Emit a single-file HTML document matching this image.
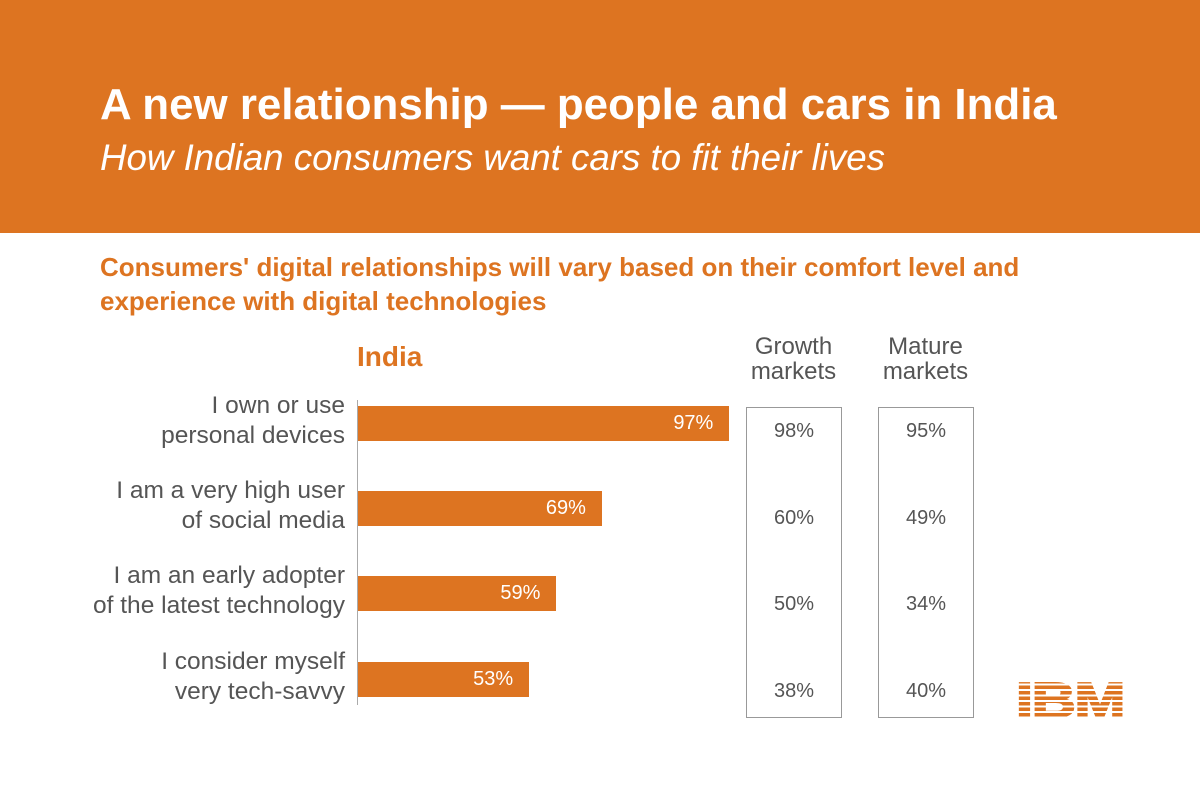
<!DOCTYPE html>
<html><head><meta charset="utf-8"><style>
body{margin:0;width:1200px;height:799px;background:#fff;font-family:"Liberation Sans",sans-serif;position:relative;overflow:hidden}
.abs{position:absolute}
</style></head><body>
<div class="abs" style="left:0;top:0;width:1200px;height:233px;background:#DD7421"></div>
<div class="abs" style="left:100px;top:80px;font-size:43.9px;font-weight:bold;color:#fff;white-space:nowrap">A new relationship — people and cars in India</div>
<div class="abs" style="left:100px;top:137px;font-size:36.7px;font-style:italic;color:#fff;white-space:nowrap">How Indian consumers want cars to fit their lives</div>
<div class="abs" style="left:100px;top:250px;font-size:26px;font-weight:bold;color:#DD7421;line-height:34px;width:1000px">Consumers' digital relationships will vary based on their comfort level and experience with digital technologies</div>
<div class="abs" style="left:357px;top:341px;font-size:28px;font-weight:bold;color:#DD7421">India</div>
<div class="abs" style="left:740px;top:334px;width:107px;text-align:center;font-size:24px;color:#555;line-height:25px">Growth<br>markets</div>
<div class="abs" style="left:872px;top:334px;width:107px;text-align:center;font-size:24px;color:#555;line-height:25px">Mature<br>markets</div>
<div class="abs" style="left:746px;top:407px;width:94px;height:309px;border:1px solid #999"></div>
<div class="abs" style="left:878px;top:407px;width:94px;height:309px;border:1px solid #999"></div>
<div class="abs" style="left:357px;top:400px;width:1px;height:305px;background:#aaa"></div>
<div id="chart"></div>
<div class="abs" style="left:1016px;top:671px;font-size:50px;font-weight:900;color:#DD7421;letter-spacing:-1px;line-height:60px;transform-origin:0 0;transform:scale(1.22,0.98);-webkit-text-stroke:2px #DD7421">IBM</div>
<div class="abs" style="left:1010px;top:680px;width:120px;height:44px;background:repeating-linear-gradient(to bottom,transparent 0,transparent 3.5px,#fff 3.5px,#fff 5.5px)"></div>
<script>
const categories=[["I own or use","personal devices"],["I am a very high user","of social media"],["I am an early adopter","of the latest technology"],["I consider myself","very tech-savvy"]];
const indiaValues=[97,69,59,53];
const growthValues=[98,60,50,38];
const matureValues=[95,49,34,40];
const x=v=>4.55*v-70;
const rowY=i=>424+i*85.2;
const c=document.getElementById('chart');
function add(html){const t=document.createElement('div');t.innerHTML=html;const e=t.firstChild;c.appendChild(e);return e;}
categories.forEach((cat,i)=>{
  const y=rowY(i);
  const lab=add(`<div class="abs" style="right:855px;top:${y-33}px;text-align:right;font-size:24.5px;color:#555;line-height:30px;white-space:nowrap">${cat[0]}<br>${cat[1]}</div>`);
  
  
  const w=x(indiaValues[i]);
  const bar=add(`<div class="abs" style="left:358px;top:${y-18}px;width:${w}px;height:35px;background:#DD7421"></div>`);
  
  
  const v=add(`<div class="abs" style="left:${358+w-78}px;top:${y-12}px;width:62px;text-align:right;font-size:20px;color:#fff">${indiaValues[i]}%</div>`);
  
  
  const g=add(`<div class="abs" style="left:746px;top:${y-6+i*1.5+2}px;width:96px;text-align:center;font-size:20px;color:#555">${growthValues[i]}%</div>`);
  
  
  const m=add(`<div class="abs" style="left:878px;top:${y-6+i*1.5+2}px;width:96px;text-align:center;font-size:20px;color:#555">${matureValues[i]}%</div>`);
  
  
});
</script>
</body></html>
